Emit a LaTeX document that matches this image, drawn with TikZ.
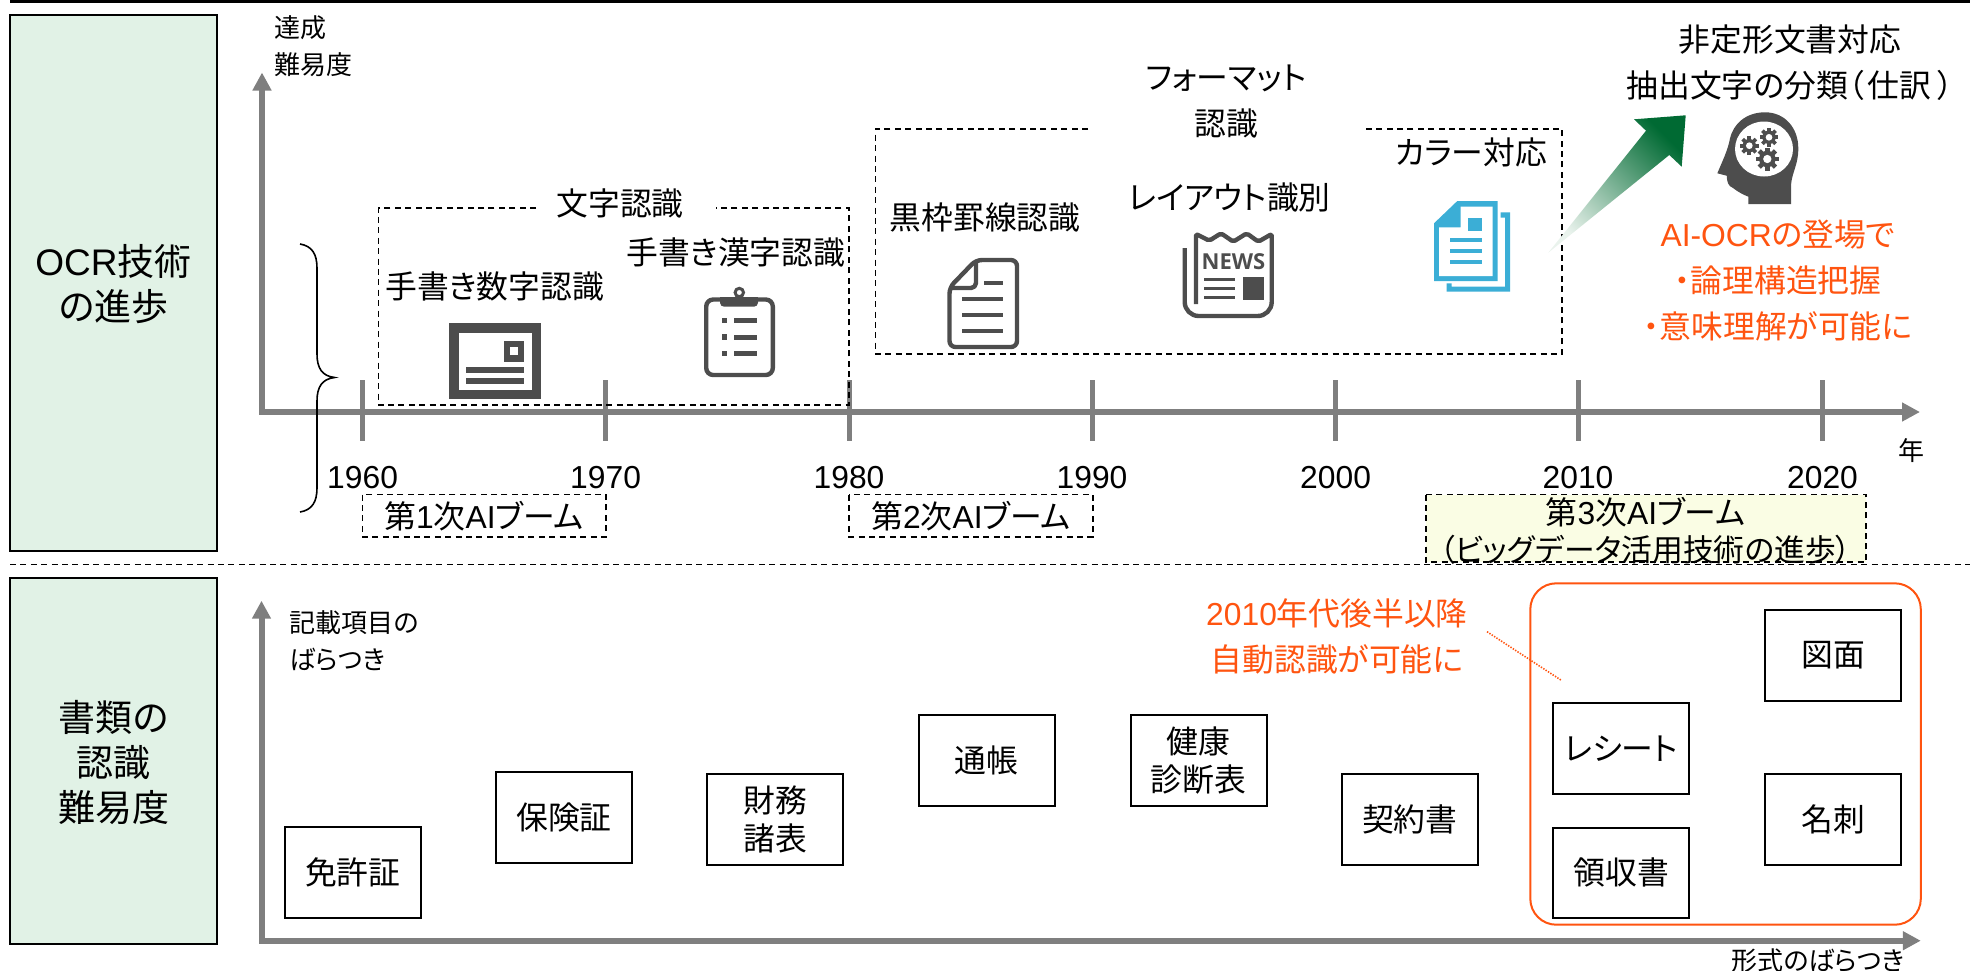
\documentclass[tikz,border=0pt]{standalone}
\usepackage{fontspec}
\setmainfont{Noto Sans CJK JP}[RawFeature={+palt}]
\newfontfamily\latf{Liberation Sans}
\newfontfamily\newsf{Open Sans}[BoldFont={Open Sans Bold}]
\newcommand\La[1]{{\latf #1}}
\usetikzlibrary{arrows.meta,calc}
\definecolor{icondark}{HTML}{4D4D4D}
\definecolor{axisgray}{HTML}{7F7F7F}
\definecolor{sidegreen}{HTML}{E1F2E6}
\definecolor{accent}{HTML}{FF5410}
\definecolor{iconblue}{HTML}{3BAED6}
\definecolor{paleyellow}{HTML}{FAFDE4}
\definecolor{arrowdark}{HTML}{006A33}
\definecolor{arrowpale}{HTML}{EAF3ED}
\tikzset{
  x=.5pt,y=-.5pt,
  sidebox/.style={draw=black,line width=.9pt,fill=sidegreen},
  sidetext/.style={inner sep=0,align=center,font=\fontsize{18.5}{22.6}\selectfont},
  axisline/.style={draw=axisgray,line width=3pt,line join=miter,{Triangle[length=9pt,width=9pt]}-{Triangle[length=9pt,width=9pt]}},
  tick/.style={draw=axisgray,line width=2.5pt},
  dashbox/.style={draw=black,line width=.8pt,dash pattern=on 3pt off 2.2pt},
  lab/.style={inner sep=0,align=center,font=\fontsize{15.9}{23}\selectfont},
  smalllab/.style={inner sep=0,align=left,font=\fontsize{13}{18.5}\selectfont},
  hot/.style={lab,text=accent},
  docbox/.style={draw=black,line width=1pt,inner sep=0,align=center,minimum width=68pt,minimum height=45.3pt,font=\fontsize{15.9}{19}\selectfont},
  iconline/.style={draw=icondark,line width=2.2pt,line join=round},
  iconfill/.style={fill=icondark,draw=none},
}
\newcommand\gearicon[3]{%
  \begin{scope}[shift={(#1,#2)}]
    \foreach \a in {0,45,...,315}{\draw[draw=icondark,line width=#3*.2pt] (\a:#3*.6) -- (\a:#3);}
    \fill[icondark] (0,0) circle[radius=#3*.72];
    \fill[white] (0,0) circle[radius=#3*.36];
  \end{scope}}
\begin{document}
\begin{tikzpicture}
\useasboundingbox (0,0) rectangle (1970,970);
% top rule and divider
\coordinate (ruleL) at (10,1.5); \coordinate (ruleR) at (1970,1.5);
\draw[black,line width=1.4pt] (ruleL) -- (ruleR);
\coordinate (divL) at (10,564.5); \coordinate (divR) at (1970,564.5);
\draw[dashbox] (divL) -- (divR);
% side boxes
\node[sidebox,minimum width=103.5pt,minimum height=268pt,inner sep=0] (sideA) at (113.5,283) {};
\node[sidebox,minimum width=103.5pt,minimum height=183pt,inner sep=0] (sideB) at (113.5,761) {};
\node[sidetext] (sideAt) at (113.5,284) {\La{OCR}技術\\の進歩};
\node[sidetext] (sideBt) at (113.5,762.5) {書類の\\認識\\難易度};
% top axis
\coordinate (yA) at (262,72.5); \coordinate (oA) at (262,412); \coordinate (xA) at (1920,412);
\draw[axisline] (yA) -- (oA) -- (xA);
\foreach \n/\px in {a/362.6,b/605.6,c/849,d/1092,e/1335.6,f/1578,g/1822.5}{
  \coordinate (t\n u) at (\px,380); \coordinate (t\n d) at (\px,441);
  \draw[tick] (t\n u) -- (t\n d);
}
\foreach \n/\px/\yr in {a/362.6/1960,b/605.6/1970,c/849/1980,d/1092/1990,e/1335.6/2000,f/1578/2010,g/1822.5/2020}{
  \node[lab] (yr\n) at (\px,477.5) {\La{\yr}};
}
\node[smalllab] (ylabelA) at (313,46.5) {達成\\難易度};
\node[smalllab] (xlabelA) at (1911,451) {年};
% brace
\draw[black,line width=.8pt] (300,244) .. controls (312,246) and (317,254) .. (317,268) -- (317,354) .. controls (317,368) and (322,376) .. (334.5,377.5) .. controls (322,379) and (317,387) .. (317,401) -- (317,488) .. controls (317,502) and (312,510) .. (300,512);
% dashed groups
\draw[dashbox] (536,208) -- (378.5,208) -- (378.5,405) -- (849,405) -- (849,208) -- (716,208);
\node[lab] (grpA) at (620,203.5) {文字認識};
\draw[dashbox] (1088,128.7) -- (875.6,128.7) -- (875.6,353.8) -- (1562,353.8) -- (1562,128.7) -- (1362.5,128.7);
\node[lab] (grpB) at (1226,102) {フォーマット\\認識};
\node[lab] (tA) at (494.5,286) {手書き数字認識};
\node[lab] (tB) at (736,252.5) {手書き漢字認識};
\node[lab] (tC) at (985,217.5) {黒枠罫線認識};
\node[lab] (tD) at (1229.5,197.5) {レイアウト識別};
\node[lab] (tE) at (1471,152.7) {カラー対応};
% booms
\draw[dashbox] (362.6,494.6) rectangle (606,536.8);
\node[lab] (boomA) at (484,516) {第\La{1}次\La{AI}ブーム};
\draw[dashbox] (849,494.6) rectangle (1092.8,537);
\node[lab] (boomB) at (971,516) {第\La{2}次\La{AI}ブーム};
\draw[dashbox,fill=paleyellow] (1426,494.6) rectangle (1866,562);
\node[lab,font=\fontsize{15.9}{18.5}\selectfont] (boomC) at (1645.5,530.5) {第\La{3}次\La{AI}ブーム\\{\fontsize{15.4}{18.5}\selectfont （ビッグデータ活用技術の進歩）}};
% card icon
\fill[icondark] (449,323) rectangle (541,399);
\fill[white] (458.5,332.5) rectangle (532,390);
\fill[icondark] (504,341) rectangle (524,361.7);
\fill[white] (510,347) rectangle (517.7,355);
\fill[icondark] (466,366.7) rectangle (524,372.7);
\fill[icondark] (466,378) rectangle (524,384.3);
% clipboard icon
\draw[iconline,rounded corners=3.5pt] (706.2,299.5) rectangle (772.8,375);
\draw[draw=icondark,line width=1.5pt] (739.3,292.5) circle[radius=4.2];
\fill[icondark,rounded corners=2pt] (720,297) rectangle (758,306.7);
\fill[icondark] (720,297) rectangle (758,301);
\foreach \py in {320.3,337,353.7}{
  \fill[icondark] (721.7,\py-2.7) rectangle (727.3,\py+2.7);
  \fill[icondark] (734,\py-2.5) rectangle (757.3,\py+2.5);
}
% document icon
\draw[iconline,rounded corners=3pt] (976,260) -- (1017,260) -- (1017,347) -- (949.5,347) -- (949.5,287.5) -- cycle;
\draw[iconline,rounded corners=2.5pt] (976,260) -- (976,288) -- (949.5,288);
\draw[draw=icondark,line width=2pt] (984.3,283.3) -- (1003.3,283.3);
\foreach \py in {299,315,331}{\draw[draw=icondark,line width=2pt] (962.3,\py) -- (1003.3,\py);}
% news icon
\draw[iconline] [rounded corners=7pt] (1184.7,248) -- (1184.7,316) -- (1271.7,316) [rounded corners=1pt] -- (1271.7,234) -- (1258.3,241.7) -- (1246.7,233.3) -- (1233.3,241.7) -- (1221,233.3) -- (1209.3,240.7) -- (1196,234) -- (1196,304);
\node[inner sep=0,text=icondark,font=\newsf\bfseries\fontsize{11}{11}\selectfont] (newsT) at (1233.5,261.5) {NEWS};
\foreach \py in {279.3,288.3,297.7}{\draw[draw=icondark,line width=1.5pt] (1204.3,\py) -- (1235,\py);}
\fill[icondark] (1242.7,277.3) rectangle (1264,300);
% blue icon
\fill[iconblue] (1434,223.3) -- (1457.3,201) -- (1497.7,201) -- (1497.7,281) -- (1434,281) -- cycle;
\fill[white] (1439,227.3) -- (1460.7,227.3) -- (1460.7,206.7) -- (1492.7,206.7) -- (1492.7,276) -- (1439,276) -- cycle;
\fill[iconblue] (1468.3,218.3) rectangle (1481.7,230.7);
\foreach \py in {240.3,251,261.7}{\fill[iconblue] (1450.3,\py-2) rectangle (1481.7,\py+2);}
\fill[iconblue] (1500.7,212.3) -- (1510,212.3) -- (1510,291.7) -- (1446.7,291.7) -- (1446.7,283.3) -- (1451.7,283.3) -- (1451.7,286.7) -- (1505,286.7) -- (1505,217.7) -- (1500.7,217.7) -- cycle;
% green arrow
\path[bottom color=arrowpale,top color=arrowdark,shading angle=-45] (1548.3,252.7) -- (1646,130.7) -- (1634,119.3) -- (1685.7,115.3) -- (1681.7,166.7) -- (1669.3,155) -- cycle;
% head icon
\fill[icondark] (1748.3,204) -- (1791,204) -- (1791,185) .. controls (1792,172) and (1798.3,165) .. (1798.3,148.3) .. controls (1798.3,128) and (1785,112.3) .. (1765,112.3) .. controls (1745,112.3) and (1733,125) .. (1730,138.3) .. controls (1728,150) and (1722,162) .. (1717.3,173.3) -- (1726.7,175.7) .. controls (1727,182) and (1728,186) .. (1733,188) .. controls (1738,192) and (1744,195) .. (1748.3,196.7) -- cycle;
\fill[white] (1764,149) ellipse[x radius=29,y radius=27.5];
\gearicon{1749.3}{145.7}{9.3}
\gearicon{1769}{137.3}{9.3}
\gearicon{1767.3}{159}{11.5}
% right texts
\node[lab] (unstruct) at (1790,62.7) {非定形文書対応\\抽出文字の分類（\kern2pt 仕訳\kern3pt ）};
\node[hot] (aiocr) at (1778,280) {\La{AI-OCR}の登場で\\・論理構造把握\\・意味理解が可能に};
% lower axis
\coordinate (yB) at (261.5,600.7); \coordinate (oB) at (261.5,940.7); \coordinate (xB) at (1920.8,940.7);
\draw[axisline] (yB) -- (oB) -- (xB);
\node[smalllab] (ylabelB) at (354,640.5) {記載項目の\\ばらつき};
\node[smalllab] (xlabelB) at (1818,961) {形式のばらつき};
% highlight
\draw[draw=accent,line width=1pt,rounded corners=13pt] (1530.3,583.3) rectangle (1920.8,924.7);
\node[docbox] (d1) at (352.7,872.6) {免許証};
\node[docbox] (d2) at (564,817.5) {保険証};
\node[docbox] (d3) at (775.3,819.5) {財務\\諸表};
\node[docbox] (d4) at (986.5,760.3) {通帳};
\node[docbox] (d5) at (1198.6,760.3) {健康\\診断表};
\node[docbox] (d6) at (1409.8,819.5) {契約書};
\node[docbox] (d7) at (1621.2,748.3) {レシート};
\node[docbox] (d8) at (1621.2,872.8) {領収書};
\node[docbox] (d9) at (1833,655.6) {図面};
\node[docbox] (d10) at (1833,819.5) {名刺};
\node[hot] (note) at (1337,636.3) {\La{2010}年代後半以降\\自動認識が可能に};
\coordinate (noteEnd) at (1487,631.7); \coordinate (noteTip) at (1561.9,680.7);
\draw[draw=accent,line width=.8pt,dash pattern=on .7pt off .7pt] (noteEnd) -- (noteTip);
\end{tikzpicture}
\end{document}
